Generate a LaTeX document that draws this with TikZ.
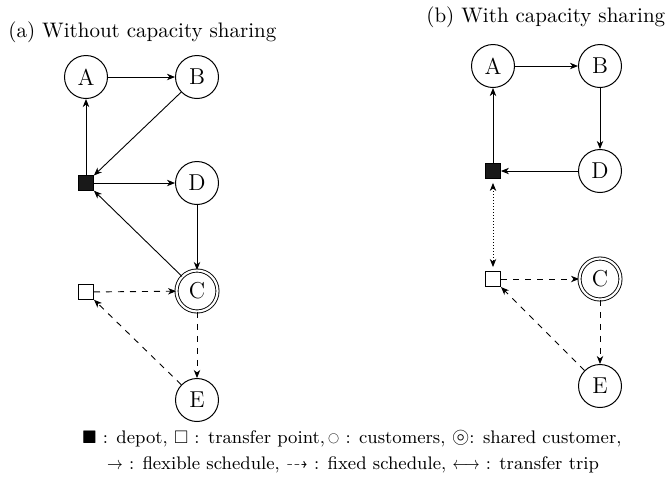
\documentclass[tikz,border=0pt]{standalone}
\usepackage{amssymb}
\usepackage{graphicx}
\usetikzlibrary{arrows.meta}
\begin{document}
\begin{tikzpicture}[x=0.5pt,y=-0.5pt,
  cust/.style={circle,draw,minimum size=21.5pt,inner sep=0pt,line width=0.5pt,font=\fontsize{11.5}{13}\selectfont},
  shared/.style={circle,draw,double,double distance=1.1pt,minimum size=20.5pt,inner sep=0pt,line width=0.45pt,font=\fontsize{11.5}{13}\selectfont},
  depotbox/.style={rectangle,draw,fill=black!90,minimum size=7.5pt,inner sep=0pt},
  transbox/.style={rectangle,draw,fill=white,minimum size=7.5pt,inner sep=0pt,line width=0.5pt},
  flex/.style={-{Stealth[length=4pt,width=3.2pt,inset=1.2pt]},line width=0.45pt},
  fixed/.style={flex,dash pattern=on 3pt off 3pt},
  trip/.style={{Stealth[length=4pt,width=3.2pt,inset=1.2pt]}-{Stealth[length=4pt,width=3.2pt,inset=1.2pt]},line width=0.45pt,dash pattern=on 0.5pt off 1pt},
  titletext/.style={anchor=base west,inner sep=0pt,font=\fontsize{10.5}{12}\selectfont},
  legendtext/.style={anchor=base,inner sep=0pt,font=\fontsize{9.1}{11}\selectfont}
]
\useasboundingbox (0,0) rectangle (665,484);
% titles
\node[titletext] (ta) at (8,37) {(a) Without capacity sharing};
\node[titletext] (tb) at (426,22) {(b) With capacity sharing};
% (a)
\node[cust] (aA) at (86,77) {A};
\node[cust] (aB) at (197,77) {B};
\node[depotbox] (aP) at (86,183) {};
\node[cust] (aD) at (197,183) {D};
\node[shared] (aC) at (197,291) {C};
\node[transbox] (aT) at (86,292) {};
\node[cust] (aE) at (197,400) {E};
\draw[flex] (aA) -- (aB);
\draw[flex] (aB) -- (aP);
\draw[flex] (aP) -- (aA);
\draw[flex] (aP) -- (aD);
\draw[flex] (aD) -- (aC);
\draw[flex] (aC) -- (aP);
\draw[fixed] (aT) -- (aC);
\draw[fixed] (aC) -- (aE);
\draw[fixed] (aE) -- (aT);
% (b)
\node[cust] (bA) at (493,66) {A};
\node[cust] (bB) at (600,66) {B};
\node[depotbox] (bP) at (493,171) {};
\node[cust] (bD) at (600,171) {D};
\node[transbox] (bT) at (493,279) {};
\node[shared] (bC) at (600,279) {C};
\node[cust] (bE) at (600,386) {E};
\draw[flex] (bA) -- (bB);
\draw[flex] (bB) -- (bD);
\draw[flex] (bD) -- (bP);
\draw[flex] (bP) -- (bA);
\draw[trip] ([yshift=-2pt]bP.south) -- ([yshift=2pt]bT.north);
\draw[fixed] (bT) -- (bC);
\draw[fixed] (bC) -- (bE);
\draw[fixed] (bE) -- (bT);
% legend
\node[legendtext] (l1) at (352,443) {$\blacksquare$ : depot, $\square$ : transfer point,\,\raisebox{0.15ex}{\scalebox{0.6}{$\bigcirc$}} : customers, \scalebox{1.25}{$\circledcirc$}: shared customer,};
\node[legendtext] (l2) at (353,469) {\scalebox{0.85}[1]{$\rightarrow$} : flexible schedule, \scalebox{0.8}[1]{$\dashrightarrow$} : fixed schedule, \scalebox{0.8}[1]{$\longleftrightarrow$} : transfer trip};
\end{tikzpicture}
\end{document}
